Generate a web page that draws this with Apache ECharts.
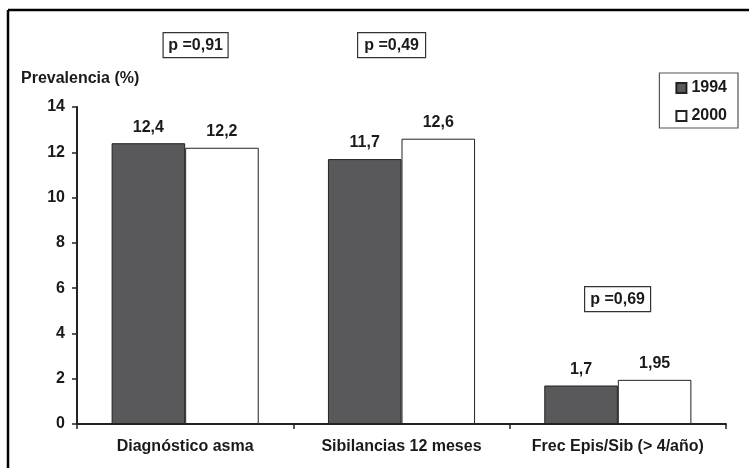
<!DOCTYPE html>
<html><head><meta charset="utf-8">
<script src="https://cdn.jsdelivr.net/npm/echarts@6/dist/echarts.min.js"></script>
<style>html,body{margin:0;padding:0;background:#fff}#c{width:749px;height:468px}</style>
</head><body><div id="c"></div>
<script>
const categories = ['Diagnóstico asma', 'Sibilancias 12 meses', 'Frec Epis/Sib (> 4/año)'];
const values1994 = [12.4, 11.7, 1.7];
const values2000 = [12.2, 12.6, 1.95];
const pValues = ['p =0,91', 'p =0,49', 'p =0,69'];
const yTicks = [0, 2, 4, 6, 8, 10, 12, 14];

const FONT = '"Liberation Sans", Arial, sans-serif';
const FS = 16;
const TXT = '#1a1a1a';
const fmt = v => String(v.value).replace('.', ',');
const chart = echarts.init(document.getElementById('c'), null, {renderer: 'canvas'});

function pBox(text, cx, cy, w) {
  return {
    type: 'group', left: cx - w / 2, top: cy - 13,
    children: [
      {type: 'rect', shape: {x: 0, y: 0, width: w, height: 25}, style: {fill: '#fff', stroke: '#333', lineWidth: 1.2}},
      {type: 'text', style: {text: text, x: w / 2, y: 13, align: 'center', verticalAlign: 'middle', font: 'bold ' + FS + 'px ' + FONT, fill: TXT}}
    ]
  };
}

chart.setOption({
  animation: false,
  textStyle: {fontFamily: FONT},
  grid: {left: 77, right: 23, top: 107, bottom: 44},
  legend: {
    orient: 'vertical', right: 11, top: 73,
    itemWidth: 10, itemHeight: 10, itemGap: 12,
    backgroundColor: '#fff', borderColor: '#555', borderWidth: 1.2,
    padding: [7, 11, 4, 16],
    textStyle: {fontFamily: FONT, fontWeight: 'bold', fontSize: FS, color: TXT},
    data: [{name: '1994', icon: 'rect'}, {name: '2000', icon: 'rect'}]
  },
  xAxis: {
    type: 'category', data: categories,
    axisLine: {lineStyle: {color: '#222', width: 2}},
    axisTick: {show: true, length: 5, lineStyle: {color: '#222', width: 1.5}},
    axisLabel: {fontFamily: FONT, fontWeight: 'bold', fontSize: FS, color: TXT, margin: 15, interval: 0}
  },
  yAxis: {
    type: 'value', min: yTicks[0], max: yTicks[yTicks.length - 1], interval: 2,
    name: 'Prevalencia (%)', nameLocation: 'end', nameGap: 20,
    nameTextStyle: {fontFamily: FONT, fontWeight: 'bold', fontSize: FS, color: TXT, align: 'left', padding: [0, 0, 0, -56]},
    axisLine: {show: true, lineStyle: {color: '#222', width: 2}},
    axisTick: {show: true, length: 5, lineStyle: {color: '#222', width: 1.5}},
    axisLabel: {fontFamily: FONT, fontWeight: 'bold', fontSize: FS, color: TXT, margin: 12},
    splitLine: {show: false}
  },
  series: [
    {
      name: '1994', type: 'bar', data: values1994, barGap: '0%', barCategoryGap: '32%',
      itemStyle: {color: '#59595b', borderColor: '#222', borderWidth: 1},
      label: {show: true, position: 'top', distance: 8, formatter: fmt, fontFamily: FONT, fontWeight: 'bold', fontSize: FS, color: TXT}
    },
    {
      name: '2000', type: 'bar', data: values2000,
      itemStyle: {color: '#ffffff', borderColor: '#222', borderWidth: 1},
      label: {show: true, position: 'top', distance: 8, formatter: fmt, fontFamily: FONT, fontWeight: 'bold', fontSize: FS, color: TXT}
    }
  ],
  graphic: [
    {type: 'line', shape: {x1: 8, y1: 10, x2: 749, y2: 10}, style: {stroke: '#000', lineWidth: 2.5}},
    {type: 'line', shape: {x1: 8, y1: 10, x2: 8, y2: 468}, style: {stroke: '#000', lineWidth: 2.5}},
    pBox(pValues[0], 195, 45, 65),
    pBox(pValues[1], 391, 45, 68),
    pBox(pValues[2], 617, 299, 66)
  ]
});
</script></body></html>
